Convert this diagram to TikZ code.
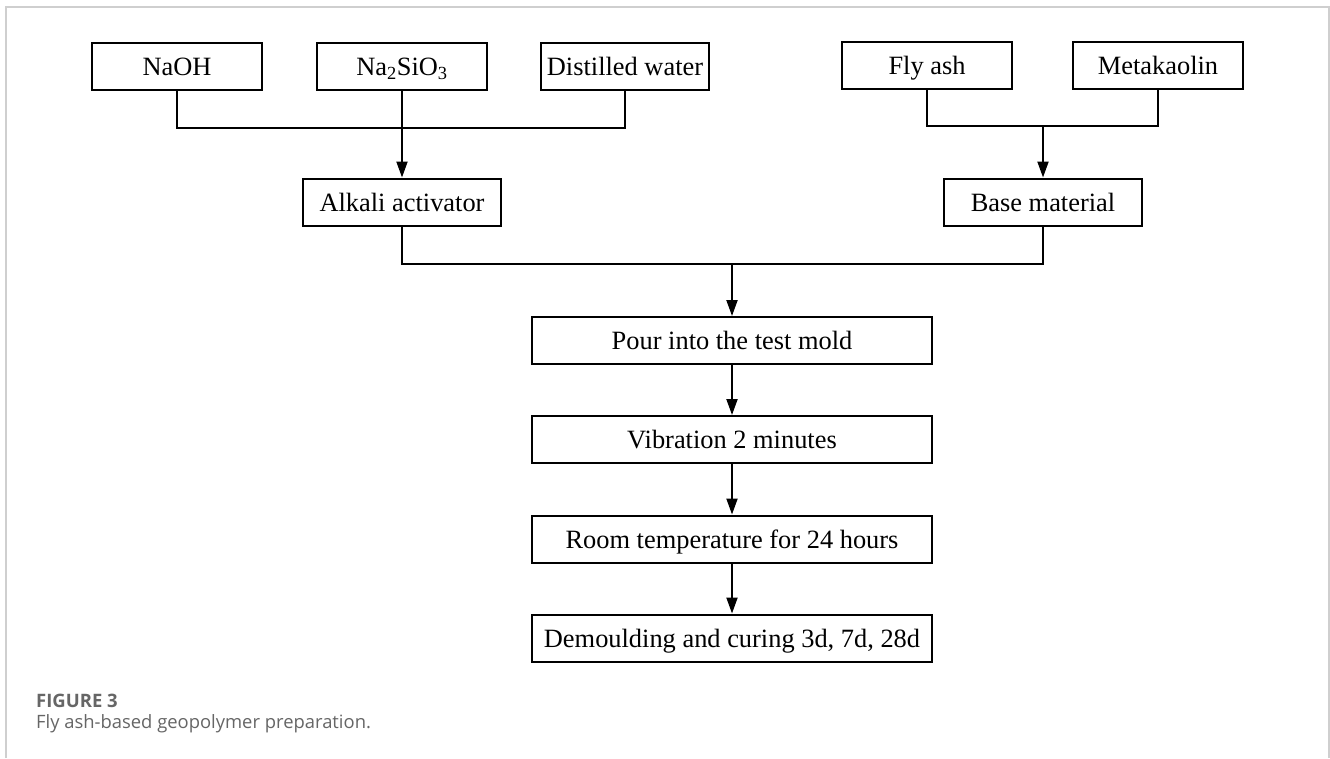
\documentclass[tikz,border=0pt]{standalone}
\usepackage{fontspec}
\setmainfont{Liberation Serif}
\newfontfamily\capfont{Open Sans}
\usetikzlibrary{arrows.meta}
\definecolor{framegray}{HTML}{CFCFCF}
\definecolor{capgray}{HTML}{666666}
\tikzset{
  box/.style={draw=black, line width=2pt, inner sep=0pt, minimum height=47pt,
    text height=19pt, text depth=1pt,
    font=\fontsize{26.4}{28}\selectfont, text=black},
  wbox/.style={box, minimum width=170pt},
  mbox/.style={box, minimum width=198pt},
  cbox/.style={box, minimum width=400pt},
  conn/.style={line width=2pt, black},
  arr/.style={conn, -{Triangle[length=16pt,width=11pt]}},
}
\begin{document}
\begin{tikzpicture}[x=1pt,y=-1pt]
\useasboundingbox (0,0) rectangle (1330,758);
\fill[white] (0,0) rectangle (1330,758);
% outer frame
\draw[framegray, line width=2pt] (6,758) -- (6,7) -- (1329,7) -- (1329,758);

% top row
\node[wbox] (naoh) at (177,66.5) {NaOH};
\node[wbox] (nasio) at (402,66.5) {Na\textsubscript{2}SiO\textsubscript{3}};
\node[box, minimum width=168pt] (water) at (625,66.5) {Distilled water};
\node[wbox] (fly) at (927,65.5) {Fly ash};
\node[wbox] (meta) at (1158,65.5) {Metakaolin};

% middle row
\node[mbox] (alkali) at (402,202) {Alkali activator};
\node[mbox] (base) at (1043,202) {Base material};

% central column
\node[cbox] (pour) at (732,340.5) {Pour into the test mold};
\node[cbox] (vib) at (732,439.5) {Vibration 2 minutes};
\node[cbox] (room) at (732,539) {Room temperature for 24 hours};
\node[cbox] (demo) at (732,638) {Demoulding and curing 3d, 7d, 28d};

% junctions
\coordinate (m1) at (402,128);
\coordinate (m2) at (1043,126);
\coordinate (m3) at (732,264);

\draw[conn] (naoh.south) |- (m1) -| (water.south);
\draw[arr] (nasio.south) -- (alkali.north);
\draw[conn] (fly.south) |- (m2) -| (meta.south);
\draw[arr] (m2) -- (base.north);
\draw[conn] (alkali.south) |- (m3) -| (base.south);
\draw[arr] (m3) -- (pour.north);
\draw[arr] (pour.south) -- (vib.north);
\draw[arr] (vib.south) -- (room.north);
\draw[arr] (room.south) -- (demo.north);

% caption
\node[anchor=base west, inner sep=0pt, text=capgray, font=\capfont\bfseries\fontsize{18.5}{20}\selectfont] (figlab) at (36,707) {FIGURE 3};
\node[anchor=base west, inner sep=0pt, text=capgray, font=\capfont\fontsize{18.4}{20}\selectfont] (figcap) at (36,728) {Fly ash-based geopolymer preparation.};
\end{tikzpicture}
\end{document}
